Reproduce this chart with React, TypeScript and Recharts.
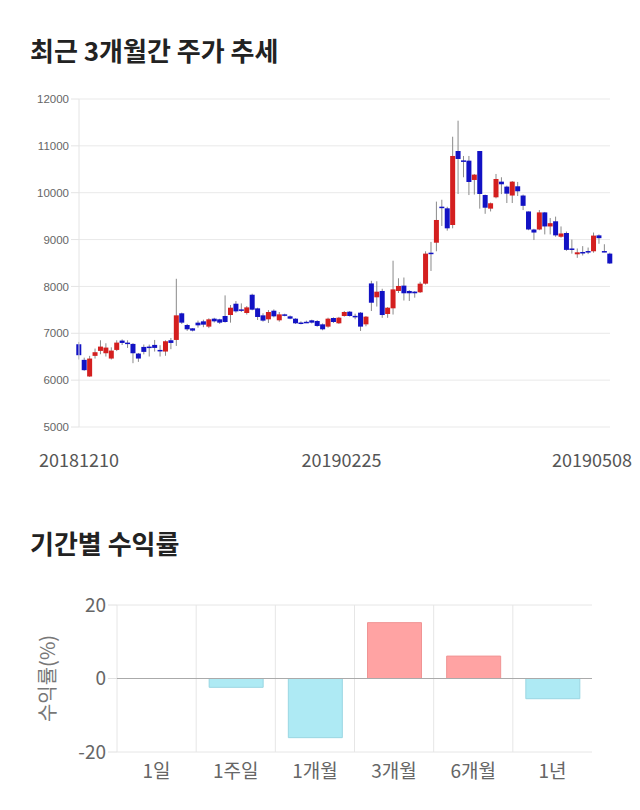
import React from "react";
import {
  BarChart,
  Bar,
  XAxis,
  YAxis,
  CartesianGrid,
  ReferenceLine,
  Cell,
} from "recharts";

// ---------- candlestick data (trading days) ----------
const dates = [
  "20181210","20181211","20181212","20181213","20181214","20181217","20181218","20181219","20181220","20181221",
  "20181224","20181226","20181227","20181228","20190102","20190103","20190104","20190107","20190108","20190109",
  "20190110","20190111","20190114","20190115","20190116","20190117","20190118","20190121","20190122","20190123",
  "20190124","20190125","20190128","20190129","20190130","20190131","20190201","20190207","20190208","20190211",
  "20190212","20190213","20190214","20190215","20190218","20190219","20190220","20190221","20190222","20190225",
  "20190226","20190227","20190228","20190304","20190305","20190306","20190307","20190308","20190311","20190312",
  "20190313","20190314","20190315","20190318","20190319","20190320","20190321","20190322","20190325","20190326",
  "20190327","20190328","20190329","20190401","20190402","20190403","20190404","20190405","20190408","20190409",
  "20190410","20190411","20190412","20190415","20190416","20190417","20190418","20190419","20190422","20190423",
  "20190424","20190425","20190426","20190429","20190430","20190502","20190503","20190507","20190508",
];

const opens = [
  6766,6433,6078,6518,6624,6574,6461,6645,6844,6801,
  6773,6567,6709,6716,6752,6645,6610,6851,6858,7426,
  7177,7106,7227,7255,7142,7312,7298,7369,7390,7631,
  7510,7433,7823,7532,7383,7298,7482,7277,7404,7362,
  7312,7230,7245,7277,7262,7191,7142,7326,7213,7369,
  7461,7372,7440,7191,8064,7768,7903,7412,7533,7903,
  8017,7903,7889,7875,8059,8720,8933,9702,9667,9311,
  10890,10690,10684,10272,10890,9951,9660,9902,10236,10130,
  9940,10137,9940,9600,9215,9215,9580,9280,9390,9060,
  9140,8810,8686,8735,8755,8750,9090,8755,8700,
];

const closes = [
  6532,6213,6461,6596,6716,6695,6631,6801,6794,6773,
  6574,6461,6603,6695,6688,6617,6830,6794,7383,7227,
  7085,7057,7170,7184,7298,7255,7227,7241,7546,7468,
  7500,7553,7504,7348,7270,7454,7362,7404,7376,7312,
  7213,7220,7238,7227,7156,7085,7312,7241,7333,7454,
  7369,7366,7142,7355,7652,7888,7390,7546,7937,8010,
  7854,7854,7854,8059,8700,8692,9418,9680,9240,10784,
  10720,10677,10229,10386,9973,9680,9775,10293,10180,9980,
  10236,10030,9720,9215,9150,9580,9280,9350,9090,9130,
  8780,8800,8728,8728,8748,9085,9030,8748,8490,
];

const highs = [
  6816,6480,6518,6674,6851,6787,6700,6851,6870,6851,
  6790,6580,6760,6759,6858,6745,6850,6900,8163,7440,
  7200,7110,7270,7290,7320,7330,7310,7809,7603,7688,
  7638,7580,7845,7546,7426,7496,7510,7454,7418,7380,
  7320,7255,7270,7290,7280,7210,7333,7340,7350,7475,
  7475,7418,7454,7369,8120,8110,7950,7560,8549,8174,
  8190,7920,7900,8100,8750,8950,9810,9850,9700,11195,
  11537,10784,10784,10400,10890,9960,9790,10400,10330,10150,
  10250,10230,9960,9600,9230,9630,9590,9460,9490,9280,
  9170,9000,8810,8860,8830,9150,9110,8900,8720,
];

const lows = [
  6440,6200,6070,6460,6553,6504,6440,6620,6750,6688,
  6362,6390,6550,6504,6610,6504,6520,6660,6730,7200,
  7050,7040,7120,7130,7110,7230,7200,7227,7227,7440,
  7454,7400,7490,7284,7248,7220,7340,7248,7362,7300,
  7200,7191,7220,7210,7140,7064,7120,7220,7200,7355,
  7355,7298,7050,7150,7475,7570,7330,7330,7400,7860,
  7700,7690,7760,7860,8040,8330,8750,9290,9190,9240,
  9973,10330,9950,9960,9660,9550,9600,9880,9970,9780,
  9780,9930,9630,9200,8990,9200,9110,9110,9060,9040,
  8760,8700,8610,8660,8690,8720,8910,8730,8480,
];

const priceTicks = [5000, 6000, 7000, 8000, 9000, 10000, 11000, 12000];
const dateTickIndexes = [0, 49, 98];

// ---------- period returns ----------
const periods = ["1일", "1주일", "1개월", "3개월", "6개월", "1년"];
const returns = [0, -2.4, -16.1, 15.2, 6.1, -5.5];
const returnTicks = [-20, 0, 20];

const candleData = dates.map((d, i) => ({
  idx: i,
  date: d,
  open: opens[i],
  close: closes[i],
  high: highs[i],
  low: lows[i],
}));

const periodData = periods.map((p, i) => ({ period: p, ret: returns[i] }));

const UP = "#d41f1f";
const DOWN = "#1212c4";

const Candle = (props: any) => {
  const { x, y, width, height, payload } = props;
  if (x == null || y == null || !payload) return null;
  const { open, close, high, low } = payload;
  const ratio = high === low ? 0 : height / (high - low);
  const yOf = (v: number) => y + (high - v) * ratio;
  const top = yOf(Math.max(open, close));
  const bot = yOf(Math.min(open, close));
  const cx = x + width / 2;
  const color = close >= open ? UP : DOWN;
  return (
    <g>
      <line x1={cx} x2={cx} y1={y} y2={y + height} stroke="#8a8a8a" strokeWidth={1} />
      <rect x={x} y={top} width={width} height={Math.max(bot - top, 1.5)} fill={color} />
    </g>
  );
};

const DateTick = (props: any) => {
  const { x, y, payload, index } = props;
  const last = index === dateTickIndexes.length - 1;
  const mid = index === 1;
  return (
    <text
      x={last ? x + 22 : mid ? x - 3 : x}
      y={y}
      dy="0.71em"
      textAnchor={last ? "end" : "middle"}
      fontSize={18}
      fill="#555"
      fontFamily="'Noto Sans CJK KR', 'Noto Sans', sans-serif"
    >
      {dates[payload.value]}
    </text>
  );
};

const titleStyle: React.CSSProperties = {
  position: "absolute",
  left: 30,
  fontSize: 26,
  lineHeight: "26px",
  fontWeight: 700,
  color: "#222",
  whiteSpace: "nowrap",
};

// vertical grid lines at category boundaries (left edge of each band)
const boundaryLines = (args: any) => {
  const { offset } = args;
  const n = periods.length;
  return periods.map((_, k) => offset.left + (k * offset.width) / n);
};

export default function App() {
  return (
    <div
      style={{
        position: "absolute",
        left: 0,
        top: 0,
        width: 640,
        height: 810,
        background: "#fff",
        fontFamily: "'Noto Sans CJK KR', 'Noto Sans', sans-serif",
        overflow: "hidden",
      }}
    >
      <div style={{ ...titleStyle, top: 37 }}>최근 3개월간 주가 추세</div>

      <div style={{ position: "absolute", left: 0, top: 0 }}>
        <BarChart
          width={640}
          height={480}
          data={candleData}
          margin={{ top: 99, right: 30, bottom: 13, left: 0 }}
        >
          <CartesianGrid vertical={false} stroke="#e9e9e9" />
          <XAxis
            dataKey="idx"
            type="number"
            domain={[0, 98]}
            ticks={dateTickIndexes}
            interval={0}
            axisLine={false}
            tickLine={false}
            tickSize={8}
            tickMargin={19}
            height={40}
            tick={<DateTick />}
          />
          <YAxis
            domain={[5000, 12000]}
            ticks={priceTicks}
            interval={0}
            width={79}
            axisLine={{ stroke: "#e4e4e4" }}
            tickLine={{ stroke: "#e4e4e4" }}
            tickSize={8}
            tickMargin={2}
            tick={{ fontSize: 11.5, fill: "#666", fontFamily: "'Liberation Sans', Arial, sans-serif" }}
          />
          <Bar
            dataKey={(d: any) => [d.low, d.high]}
            barSize={5}
            shape={<Candle />}
            isAnimationActive={false}
          />
        </BarChart>
      </div>

      <div style={{ ...titleStyle, top: 530 }}>기간별 수익률</div>

      <div style={{ position: "absolute", left: 0, top: 580 }}>
        <BarChart
          width={640}
          height={220}
          data={periodData}
          margin={{ top: 25, right: 48, bottom: 8, left: 0 }}
        >
          <CartesianGrid
            stroke="#e6e6e6"
            verticalCoordinatesGenerator={boundaryLines}
          />
          <XAxis
            xAxisId="edge"
            type="number"
            domain={[0, 6]}
            ticks={[0, 1, 2, 3, 4, 5]}
            interval={0}
            tick={false}
            tickLine={{ stroke: "#e6e6e6" }}
            tickSize={9}
            axisLine={false}
            height={0}
          />
          <XAxis
            dataKey="period"
            interval={0}
            axisLine={false}
            tickLine={false}
            tickSize={8}
            tickMargin={5}
            height={40}
            tick={{ fontSize: 19, fill: "#666" }}
          />
          <YAxis
            domain={[-20, 20]}
            ticks={returnTicks}
            interval={0}
            width={117}
            axisLine={false}
            tickLine={{ stroke: "#e0e0e0" }}
            tickSize={9}
            tickMargin={2}
            tick={{ fontSize: 19, fill: "#666" }}
            label={{
              content: (p: any) => {
                const vb = p.viewBox;
                const cx = vb.x + 46;
                const cy = vb.y + vb.height / 2;
                return (
                  <text
                    x={cx}
                    y={cy}
                    transform={`rotate(-90 ${cx} ${cy})`}
                    textAnchor="middle"
                    dominantBaseline="central"
                    fontSize={20}
                    fill="#777"
                  >
                    수익률(%)
                  </text>
                );
              },
            }}
          />
          <ReferenceLine y={0} stroke="#aaa" />
          <Bar dataKey="ret" barSize={54} isAnimationActive={false}>
            {periodData.map((d, i) => (
              <Cell
                key={i}
                fill={d.ret >= 0 ? "#ffa3a3" : "#aeeaf4"}
                stroke={d.ret >= 0 ? "#f09494" : "#9ad6e2"}
              />
            ))}
          </Bar>
        </BarChart>
      </div>
    </div>
  );
}
